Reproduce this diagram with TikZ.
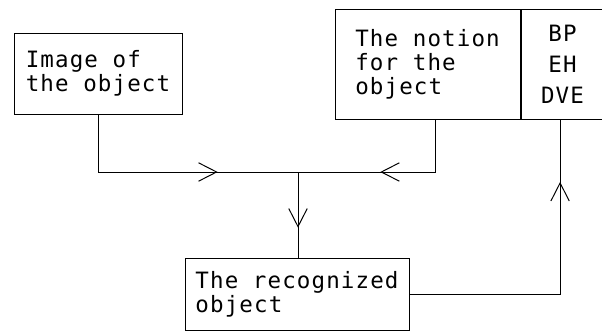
\documentclass[tikz,border=0pt]{standalone}
\usepackage{fontspec}
\newfontfamily\cadfont[LetterSpace=5]{DejaVu Sans Mono}
\usepackage{tikz}
\usetikzlibrary{arrows.meta, decorations.markings, calc}

\tikzset{
    box/.style={draw, line width=0.7pt, inner sep=0pt, align=left,
        font=\cadfont\fontsize{16}{17}\selectfont},
    line/.style={line width=0.7pt},
    midarrow/.style={postaction={decorate},
        decoration={markings, mark=at position #1 with
            {\arrow{Straight Barb[length=4.5mm, width=4.6mm, line width=0.7pt]}}}}
}

\begin{document}
\begin{tikzpicture}
    \useasboundingbox (0,0) rectangle (15.05,8.275);

    % Draw the boxes
    \node[box, minimum width=4.2cm, minimum height=2.025cm] (img) at (2.45,6.4375)
        {Image of\\the object};
    \node[box, minimum width=4.625cm, minimum height=2.75cm] (notion) at (10.6875,6.675)
        {The notion\\for the\\object};
    \node[box, align=center, minimum width=2.075cm, minimum height=2.75cm,
        font=\cadfont\fontsize{16}{22}\selectfont, anchor=west] (dve) at (notion.east)
        {BP\\EH\\DVE};
    \node[box, minimum width=5.6cm, minimum height=1.8cm] (rec) at (7.425,0.925)
        {The recognized\\object};

    % Junction of the two inputs
    \coordinate (j) at (7.45,3.975);

    % Draw the connectors
    \draw[line, midarrow=0.688] (img.south) |- (j);
    \draw[line, midarrow=0.566] ([xshift=0.19cm]notion.south) |- (j);
    \draw[line, midarrow=0.651] (j) -- (j |- rec.north);
    \draw[line, midarrow=0.808] (rec.east) -| ([xshift=-0.06cm]dve.south);

\end{tikzpicture}
\end{document}
